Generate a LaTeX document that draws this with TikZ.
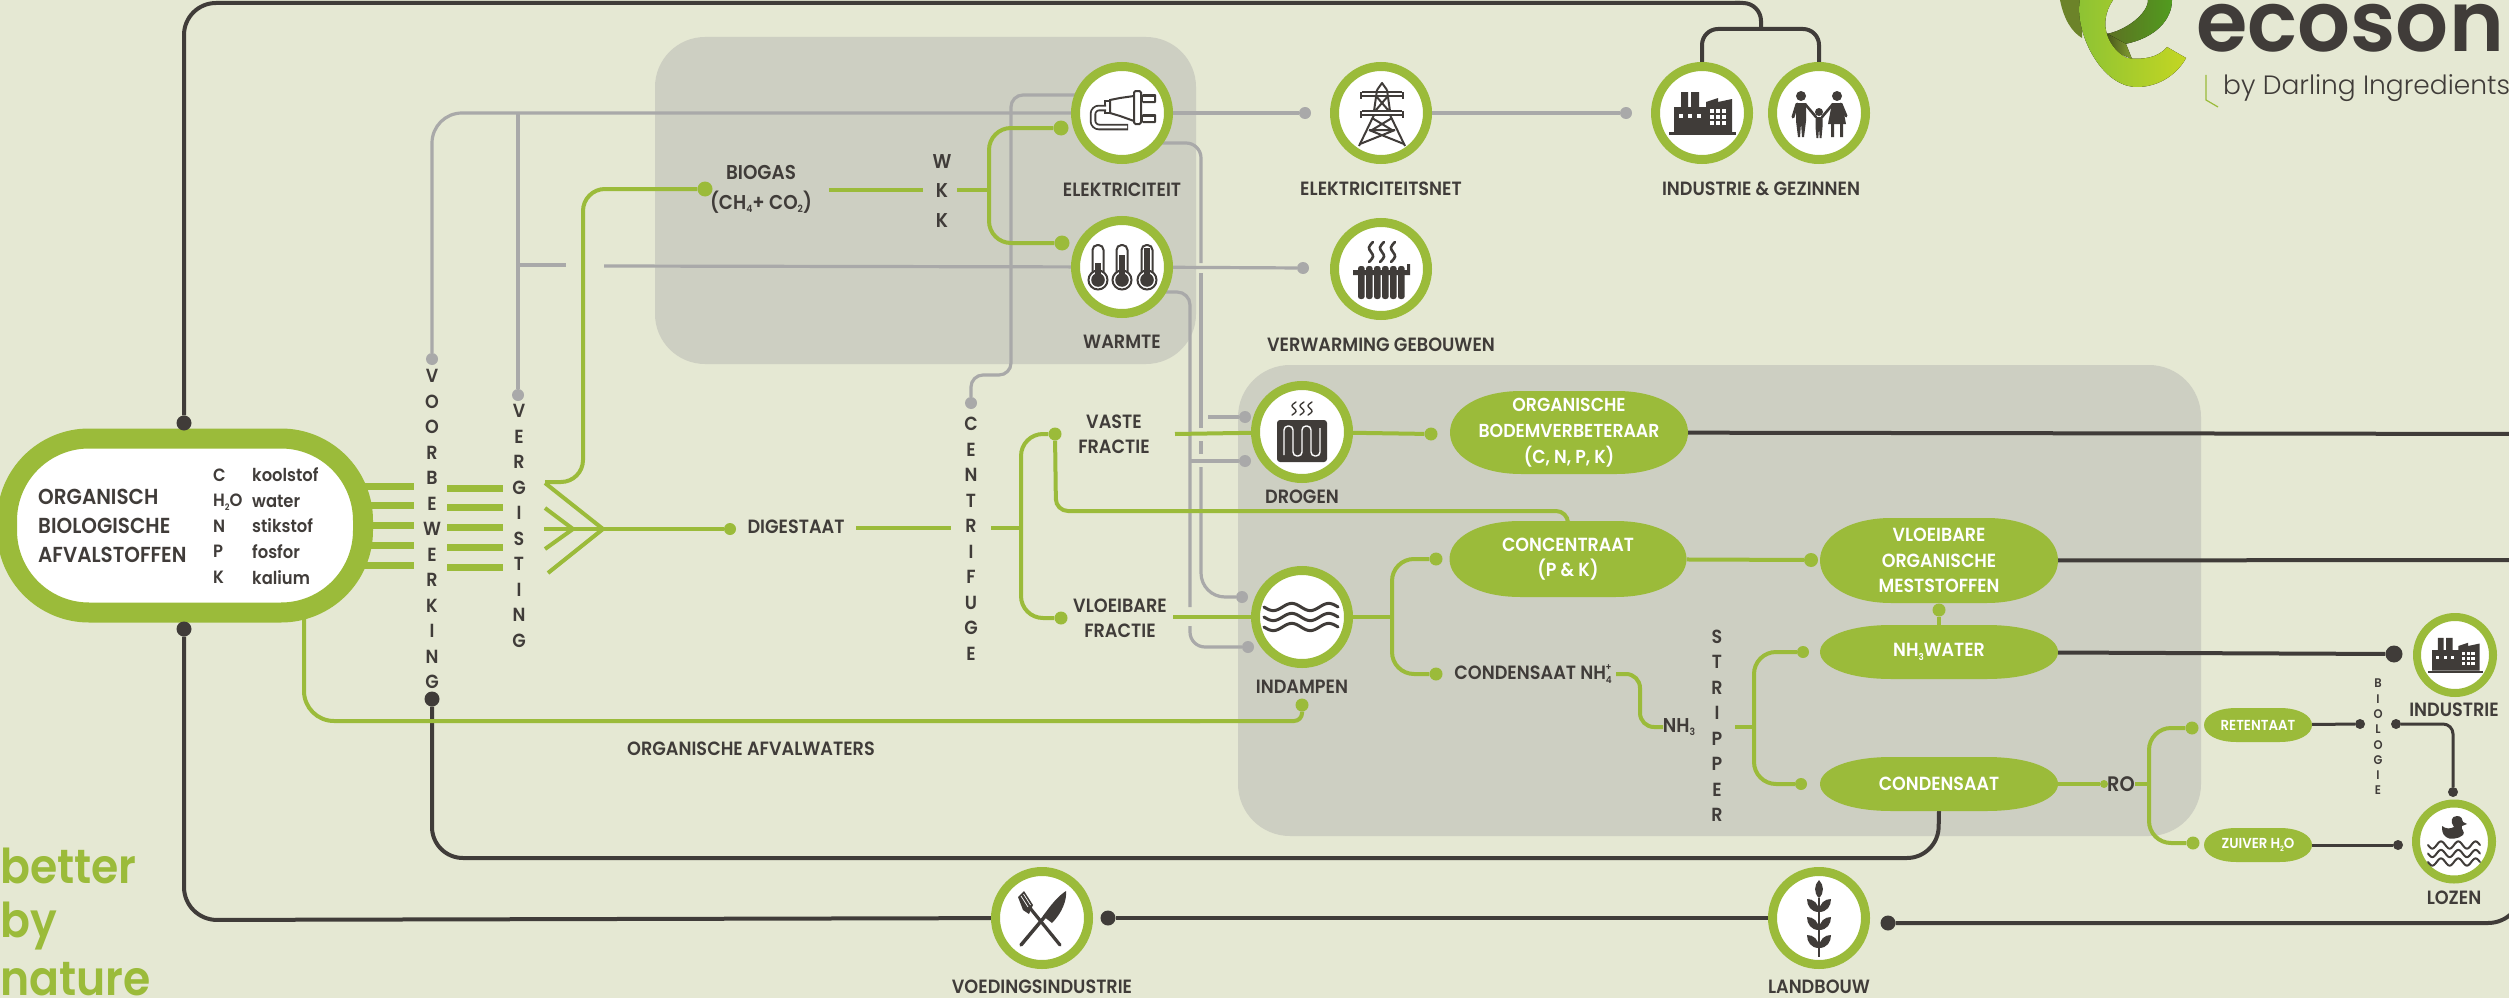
\documentclass[tikz,border=0pt]{standalone}
\usepackage{fontspec}
\newfontfamily\lb{Poppins SemiBold}[FakeStretch=0.92]
\newfontfamily\lc{Poppins SemiBold}[FakeStretch=0.99]
\newfontfamily\lr{Poppins Light}
\usetikzlibrary{calc}
\definecolor{bgc}{HTML}{E5E8D3}
\definecolor{boxc}{HTML}{CDCFC2}
\definecolor{grnc}{HTML}{9BBB3A}
\definecolor{drkc}{HTML}{403C39}
\definecolor{gryc}{HTML}{A9A9A9}
\pgfdeclarelayer{back}\pgfdeclarelayer{conn}
\pgfsetlayers{back,conn,main}
\newcommand\lowr[1]{\raisebox{-.35ex}{\scalebox{.5}{#1}}}
\newcommand\upr[1]{\raisebox{.9ex}{\scalebox{.5}{#1}}}
\tikzset{
 x=1pt,y=-1pt,
 ring/.style={circle,draw=grnc,fill=white,line width=9pt,minimum size=93pt,inner sep=0pt},
 sring/.style={circle,draw=grnc,fill=white,line width=8pt,minimum size=76pt,inner sep=0pt},
 gdot/.style={circle,fill=grnc,inner sep=0pt,minimum size=15pt},
 gsmall/.style={circle,fill=grnc,inner sep=0pt,minimum size=8pt},
 ydot/.style={circle,fill=gryc,inner sep=0pt,minimum size=12pt},
 ddot/.style={circle,fill=drkc,inner sep=0pt,minimum size=15pt},
 dbig/.style={circle,fill=drkc,inner sep=0pt,minimum size=17pt},
 dsmall/.style={circle,fill=drkc,inner sep=0pt,minimum size=10pt},
 grn/.style={draw=grnc,line width=4pt},
 grnt/.style={draw=grnc,line width=7pt},
 gry/.style={draw=gryc,line width=3.2pt},
 drk/.style={draw=drkc,line width=4pt},
 drkt/.style={draw=drkc,line width=3pt},
 lbl/.style={font=\lb\fontsize{19.2}{25.5}\selectfont,text=drkc,inner sep=0pt,align=center},
 vert/.style={font=\lb\fontsize{19}{25.5}\selectfont,text=drkc,inner sep=0pt,align=center},
 wlb/.style={font=\lb\fontsize{19}{25.7}\selectfont,text=white,inner sep=0pt,align=center},
 ico/.style={fill=drkc,draw=none},
 icl/.style={draw=drkc,line width=2pt},
}
% pill: name cx cy w h text font
\newcommand\pill[7]{%
 \fill[grnc] ({#2-#4/2},#3) .. controls ({#2-#4/2},{#3-.28*#5}) and ({#2-.38*#4},{#3-#5/2}) .. ({#2-.2*#4},{#3-#5/2})
  -- ({#2+.2*#4},{#3-#5/2}) .. controls ({#2+.38*#4},{#3-#5/2}) and ({#2+#4/2},{#3-.28*#5}) .. ({#2+#4/2},#3)
  .. controls ({#2+#4/2},{#3+.28*#5}) and ({#2+.38*#4},{#3+#5/2}) .. ({#2+.2*#4},{#3+#5/2})
  -- ({#2-.2*#4},{#3+#5/2}) .. controls ({#2-.38*#4},{#3+#5/2}) and ({#2-#4/2},{#3+.28*#5}) .. ({#2-#4/2},#3) -- cycle;
 \node[wlb,font=\lb\fontsize{#7}{25.7}\selectfont,minimum width=#4pt,minimum height=#5pt] (#1) at (#2,#3) {#6};}
\newcommand\squig[4]{\draw[shift={(#1,#2)},yscale=#3,draw=drkc,line width=#4pt,line cap=round]
 (2,0) .. controls (-3,.25) and (-3,.3) .. (0,.5) .. controls (3,.7) and (3,.75) .. (-2,1);}
\newcommand\wavy[6]{\draw[draw=#6,line width=#5pt,line cap=round] plot[domain=0:#3,samples=60,smooth] ({#1+\x*#4},{#2+3.6*sin(360*\x)});}
\newcommand\factory[3]{\begin{scope}[shift={(#1,#2)},scale=#3]
 \fill[drkc] (-33,19) rectangle (34,22);
 \fill[drkc] (-28,19) -- (-28,-6) -- (-21,-6) -- (-21,-21) -- (-14,-21) -- (-14,-6) -- (-11,-6) -- (-11,-21) -- (-3,-21) -- (-3,-6) -- (4,-6) -- (4,-11) -- (16,-15) -- (16,-11) -- (30,-14) -- (30,19) -- cycle;
 \foreach \a in {-23,-14,-5} \fill[white] (\a,1) rectangle ++(4,4);
 \foreach \a in {8,14,20} \foreach \b in {-4,2,8} \fill[white] (\a,\b) rectangle ++(4.2,4.2);
\end{scope}}
\newcommand\thermo[2]{%
 \filldraw[icl,fill=white,rounded corners=5pt] (#1-5.5,272) -- (#1-5.5,245) -- (#1+5.5,245) -- (#1+5.5,272);
 \filldraw[icl,fill=white] (#1,280) circle[radius=9.5pt];
 \fill[drkc] (#1,280) circle[radius=6.8pt];
 \fill[drkc] (#1-2.6,#2) rectangle (#1+2.6,276);}
\begin{document}
\begin{tikzpicture}
\useasboundingbox (0,0) rectangle (2509,998);
\begin{pgfonlayer}{back}
 \fill[bgc] (0,0) rectangle (2509,998);
 \fill[boxc,rounded corners=50pt] (655,37) rectangle (1196,364);
 \fill[boxc,rounded corners=52pt] (1238,365) rectangle (2201,836);
\end{pgfonlayer}

% main process rings
\node[draw=grnc,fill=white,line width=20pt,minimum width=356pt,minimum height=174pt,rounded corners=82pt,inner sep=0pt] (src) at (185,525.5) {};
\node[ring] (elek) at (1122,113) {};
\node[ring] (warm) at (1122,267) {};
\node[ring] (net) at (1381,113) {};
\node[ring] (verw) at (1381,269) {};
\node[ring] (fab) at (1702,113) {};
\node[ring] (gez) at (1819,113) {};
\node[ring] (drog) at (1302,432) {};
\node[ring] (inda) at (1302,617) {};
\node[ring] (voed) at (1042,918) {};
\node[ring] (land) at (1819,918) {};
\node[sring] (indu) at (2455,655) {};
\node[sring] (loz) at (2454,841.5) {};

% pills
\pill{org}{1569}{432.5}{238}{83}{ORGANISCHE\\BODEMVERBETERAAR\\(C, N, P, K)}{18.8}
\pill{conc}{1568}{559}{237}{76}{CONCENTRAAT\\(P \& K)}{19}
\pill{vlo}{1939}{560.5}{238}{85}{VLOEIBARE\\ORGANISCHE\\MESTSTOFFEN}{19}
\pill{nhw}{1939}{652}{238}{54}{NH\lowr{3}WATER}{19}
\pill{cond}{1939}{784}{238}{54}{CONDENSAAT}{19}
\pill{ret}{2258}{725}{108}{34}{RETENTAAT}{14.5}
\pill{zui}{2258}{845}{108}{34}{ZUIVER H\lowr{2}O}{14.5}

% dots
\node[ddot] (dtop) at (184,423) {};
\node[ddot] (dbot) at (184,629) {};
\node[ddot] (dvoor) at (432,699) {};
\node[ddot] (dvoed) at (1108,918) {};
\node[ddot] (dland) at (1888,923) {};
\node[dbig] (dind) at (2394,654) {};
\node[dsmall] (dret) at (2360,724) {};
\node[dsmall] (dbio) at (2396,724) {};
\node[dsmall] (dloz1) at (2453,792) {};
\node[dsmall] (dzui) at (2398,845) {};
\node[ydot] (yvoor) at (432,359) {};
\node[ydot] (yverg) at (518,395) {};
\node[ydot] (ycent) at (971,403) {};
\node[ydot] (ynet) at (1305,113) {};
\node[ydot] (yfab) at (1626,113) {};
\node[ydot] (yverw) at (1303,268) {};
\node[ydot] (ydr1) at (1245,417) {};
\node[ydot] (ydr2) at (1245,461) {};
\node[ydot] (yin1) at (1242,597) {};
\node[ydot] (yin2) at (1248,647) {};
\node[gdot] (gbio) at (705,189) {};
\node[gdot] (gel) at (1061,128) {};
\node[gdot] (gwa) at (1062,243) {};
\node[gdot,minimum size=12pt] (gdig) at (730,529) {};
\node[gdot,minimum size=13pt] (gvas) at (1055,434) {};
\node[gdot,minimum size=13pt] (gvlo) at (1061,618) {};
\node[gdot,minimum size=13pt] (gorg) at (1431,434) {};
\node[gdot,minimum size=13pt] (gcon) at (1436,559) {};
\node[gdot,minimum size=13pt] (gcnh) at (1436,674) {};
\node[gdot,minimum size=13pt] (gin) at (1302,705) {};
\node[gdot,minimum size=14pt] (gvl) at (1811,560) {};
\node[gdot,minimum size=13pt] (gmes) at (1939,610) {};
\node[gdot,minimum size=12pt] (gnh) at (1803,652) {};
\node[gdot,minimum size=12pt] (gco) at (1801,784) {};
\node[gsmall] (gro) at (2104,784) {};
\node[gdot,minimum size=13pt] (gret) at (2192,728) {};
\node[gdot,minimum size=13pt] (gzu) at (2193,843) {};
\coordinate (topj) at (1761,29);
\coordinate (ex1) at (2540,434);
\coordinate (ex2) at (2540,560);

\begin{pgfonlayer}{conn}
 % dark
 \draw[drk,rounded corners=32pt] (dtop) -- (184,3) -- (1740,3);
 \draw[drk,rounded corners=18pt] (1735,3) -- (1761,3) -- (topj);
 \draw[drk,rounded corners=16pt] (fab) -- (1702,29) -- (1819,29) -- (gez);
 \draw[drk,rounded corners=33pt] (dbot) -- (184,920) -- (voed);
 \draw[drk] (dvoed) -- (land);
 \draw[drk,rounded corners=34pt] (dland) -- (2522,923) -- (2522,850);
 \draw[drk,rounded corners=31pt] (dvoor) -- (432,858) -- (1938,858) -- (cond.south);
 \draw[drk] (org) -- (ex1);
 \draw[drk] (vlo) -- (ex2);
 \draw[drk] (nhw) -- (dind);
 \draw[drkt] (ret) -- (dret);
 \draw[drkt,rounded corners=10pt] (dbio) -- (2453,724) -- (dloz1);
 \draw[drkt] (zui) -- (dzui);
 % gray
 \draw[gry,rounded corners=30pt] (yvoor) -- (432,113) -- (elek);
 \draw[gry] (yverg) -- (518,113);
 \draw[gry] (518,265) -- (566,265);
 \draw[gry] (604,266) -- (warm);
 \draw[gry,rounded corners=12pt] (ycent) -- (971,375) -- (1011,375) -- (1011,95) -- (1090,95);
 \draw[gry,rounded corners=15pt] (1130,143) -- (1201,143) -- (1201,263);
 \draw[gry] (1201,273) -- (1201,428);
 \draw[gry] (1201,441) -- (1201,454);
 \draw[gry,rounded corners=24pt] (1201,467) -- (1201,597) -- (yin1);
 \draw[gry,rounded corners=13pt] (1130,292) -- (1190,292) -- (1190,607);
 \draw[gry,rounded corners=15pt] (1190,626) -- (1190,647) -- (yin2);
 \draw[gry] (1190,461) -- (ydr2);
 \draw[gry] (1208,417) -- (ydr1);
 \draw[gry] (elek) -- (ynet);
 \draw[gry] (net) -- (yfab);
 \draw[gry] (warm) -- (yverw);
 % green
 \foreach \yy in {486,505,525,545,565} \draw[grnt] (350,\yy) -- (414,\yy);
 \foreach \yy in {488,507,527,547,567} \draw[grnt] (447,\yy) -- (503,\yy);
 \draw[grn,rounded corners=22pt] (545,482) -- (583,482) -- (583,189) -- (gbio);
 \draw[grn,line join=miter] (545,483) -- (603,529) -- (548,573);
 \draw[grn,line join=miter] (545,508) -- (573,529) -- (545,549);
 \draw[grn] (544,529) -- (gdig);
 \draw[grn] (829,190) -- (923,190);
 \draw[grn] (957,190) -- (989,190);
 \draw[grn,rounded corners=22pt] (gel) -- (989,128) -- (989,243) -- (gwa);
 \draw[grn] (856,528) -- (951,528);
 \draw[grn] (991,528) -- (1021,528);
 \draw[grn,rounded corners=22pt] (gvas) -- (1021,434) -- (1021,618) -- (gvlo);
 \draw[grn,rounded corners=12pt] (gvas) -- (1056,511) -- (1568,511) -- (conc);
 \draw[grn] (1175,434) -- (drog);
 \draw[grn] (1173,617) -- (inda);
 \draw[grn] (drog) -- (gorg);
 \draw[grn] (inda) -- (1392,617);
 \draw[grn,rounded corners=22pt] (gcon) -- (1392,559) -- (1392,674) -- (gcnh);
 \draw[grn,rounded corners=14pt] (1616,674) -- (1640,674) -- (1640,727) -- (1663,727);
 \draw[grn] (conc) -- (gvl);
 \draw[grn] (gmes) -- (nhw);
 \draw[grn] (1735,727) -- (1754,727);
 \draw[grn,rounded corners=22pt] (gnh) -- (1754,652) -- (1754,784) -- (gco);
 \draw[grn] (cond) -- (gro);
 \draw[grn] (2135,784) -- (2149,784);
 \draw[grn,rounded corners=22pt] (gret) -- (2149,728) -- (2149,843) -- (gzu);
 \draw[grn,rounded corners=30pt] (304,600) -- (304,721) -- (1200,721);
 \draw[grn,rounded corners=8pt] (1190,721) -- (1302,721) -- (gin);
\end{pgfonlayer}

% labels
\node[lbl,font=\lb\fontsize{21.7}{29}\selectfont,align=left,anchor=west] (tsrc) at (38,526) {ORGANISCH\\BIOLOGISCHE\\AFVALSTOFFEN};
\node[lbl,font=\lb\fontsize{17.8}{25.6}\selectfont,align=left,anchor=west] (tel) at (213,526) {C\\H\lowr{2}O\\N\\P\\K};
\node[lbl,font=\lb\fontsize{17.8}{25.6}\selectfont,align=left,anchor=west] (tnm) at (252,526) {koolstof\\water\\stikstof\\fosfor\\kalium};
\node[vert] (tvoor) at (432,529) {V\\O\\O\\R\\B\\E\\W\\E\\R\\K\\I\\N\\G};
\node[vert] (tverg) at (519,526) {V\\E\\R\\G\\I\\S\\T\\I\\N\\G};
\node[vert] (tcen) at (971,539) {C\\E\\N\\T\\R\\I\\F\\U\\G\\E};
\node[vert] (tstr) at (1717,726) {S\\T\\R\\I\\P\\P\\E\\R};
\node[vert,font=\lb\fontsize{20}{29.5}\selectfont] (twkk) at (942,191) {W\\K\\K};
\node[vert,font=\lb\fontsize{12.5}{15.3}\selectfont] (tbio) at (2378,737) {B\\I\\O\\L\\O\\G\\I\\E};
\node[lbl,font=\lb\fontsize{20}{30}\selectfont] (tgas) at (761,189) {BIOGAS\\(CH\lowr{4}+ CO\lowr{2})};
\node[lbl] (tel1) at (1122,190) {ELEKTRICITEIT};
\node[lbl] (twa1) at (1122,342) {WARMTE};
\node[lbl] (tnet) at (1381,189) {ELEKTRICITEITSNET};
\node[lbl] (tig) at (1761,189) {INDUSTRIE \& GEZINNEN};
\node[lbl] (tvw) at (1381,345) {VERWARMING GEBOUWEN};
\node[lbl] (tdig) at (796,527) {DIGESTAAT};
\node[lbl] (tvas) at (1114,434.5) {VASTE\\FRACTIE};
\node[lbl] (tvl) at (1120,618.5) {VLOEIBARE\\FRACTIE};
\node[lbl] (tdr) at (1302,497) {DROGEN};
\node[lbl] (tin) at (1302,687) {INDAMPEN};
\node[lbl] (tafv) at (751,749) {ORGANISCHE AFVALWATERS};
\node[lbl] (tcn) at (1533,674) {CONDENSAAT NH\lowr{4}\hspace{-.32em}\upr{+}};
\node[lbl,font=\lb\fontsize{20}{25}\selectfont] (tn3) at (1679,727) {NH\lowr{3}};
\node[lbl,font=\lb\fontsize{21}{25}\selectfont] (tro) at (2121,784) {RO};
\node[lbl] (tiu) at (2454,710) {INDUSTRIE};
\node[lbl] (tlo) at (2454,898) {LOZEN};
\node[lbl] (tvo) at (1042,987) {VOEDINGSINDUSTRIE};
\node[lbl] (tla) at (1819,987) {LANDBOUW};
\node[anchor=base west,inner sep=0pt,text=grnc,font=\lb\fontsize{48}{48}\selectfont] (b1) at (0,883) {better};
\node[anchor=base west,inner sep=0pt,text=grnc,font=\lb\fontsize{48}{48}\selectfont] (b2) at (0,937) {by};
\node[anchor=base west,inner sep=0pt,text=grnc,font=\lb\fontsize{48}{48}\selectfont] (b3) at (0,995) {nature};

% logo
\fill[color=grnc!70!black] (2060,0) .. controls (2064,20) and (2072,32) .. (2082,38) -- (2083,0) -- cycle;
\fill[left color=grnc!60!black,right color=grnc!70!green!75!black] (2172,0) .. controls (2172,20) and (2155,38) .. (2125,44) -- (2106,34) .. controls (2125,31) and (2148,14) .. (2148,0) -- cycle;
\fill[left color=grnc!45!black,right color=grnc!85!black] (2106,33) -- (2126,44) -- (2132,59) -- (2118,53) -- (2107,41) -- cycle;
\fill[left color=grnc!90!green,right color=grnc!60!yellow] (2080,0) .. controls (2074,30) and (2100,87) .. (2137,87) .. controls (2160,87) and (2178,73) .. (2186,58) -- (2167,47) .. controls (2158,58) and (2143,60) .. (2127,58) .. controls (2110,50) and (2096,25) .. (2113,0) -- cycle;
\node[anchor=base west,inner sep=0pt,text=drkc,font=\lc\fontsize{84}{84}\selectfont] (eco) at (2196,52) {ecoson};
\node[anchor=base west,inner sep=0pt,text=drkc,font=\lr\fontsize{26.5}{27}\selectfont] (dar) at (2223,94) {by Darling Ingredients};
\draw[grnc,line width=1.2pt] (2206,75) -- (2206,100) -- (2218,107);

% icons: plug
\fill[drkc,rounded corners=1pt] (1142,94) rectangle (1156,103);
\fill[drkc,rounded corners=1pt] (1142,114) rectangle (1156,123);
\fill[white] (1143,96.5) rectangle (1154,100.5);
\fill[white] (1143,116.5) rectangle (1154,120.5);
\filldraw[icl,fill=white] (1134,96) -- (1120,98) -- (1110,100) -- (1110,113) -- (1120,116) -- (1134,121) -- cycle;
\filldraw[icl,fill=white,rounded corners=1.5pt] (1134,91) rectangle (1141,124);
\filldraw[icl,fill=white] (1105,101) rectangle (1110,113);
\draw[draw=drkc,line width=6.5pt,rounded corners=6pt] (1106,108) -- (1093,108) -- (1093,127) -- (1128,127);
\draw[draw=white,line width=2.8pt,rounded corners=6pt] (1107,108) -- (1093,108) -- (1093,127) -- (1127,127);
% thermometers
\thermo{1098}{263}\thermo{1122}{255}\thermo{1147}{248}
% pylon
\begin{scope}[shift={(1382,113)}]
 \draw[icl,line join=round] (-5,-23) -- (0,-30) -- (5,-23);
 \draw[icl] (-20,-21) -- (20,-21) (-21,-17) -- (21,-17) (-21,-21) -- (-21,-14) (21,-21) -- (21,-14);
 \draw[icl] (-20,-2) -- (20,-2) (-21,2) -- (21,2) (-21,-2) -- (-21,5) (21,-2) -- (21,5);
 \draw[icl] (-5,-23) -- (-8,-2) (5,-23) -- (8,-2) (-8,2) -- (-23,33) (8,2) -- (23,33) (-6,-17) -- (6,-3) (6,-17) -- (-6,-3);
 \draw[icl] (-10,5) -- (10,17) (10,5) -- (-10,17) (-13,17) -- (13,17) (-13,17) -- (22,31) (13,17) -- (-22,31);
\end{scope}
% factory, family
\factory{1702}{113}{1}
\factory{2455}{655}{.82}
\begin{scope}[shift={(1819,113)}]
 \fill[drkc] (-18,-17) circle[radius=5pt] (18,-17) circle[radius=5pt] (0,-1) circle[radius=4pt];
 \fill[drkc] (-23,-10) -- (-13,-10) -- (-13,8) -- (-15,24) -- (-17,24) -- (-18,10) -- (-19,24) -- (-21,24) -- (-23,8) -- cycle;
 \draw[draw=drkc,line width=3pt,line cap=round,rounded corners=3pt] (-22,-9) -- (-26,4);
 \draw[draw=drkc,line width=2.6pt,line cap=round] (-14,-9) -- (-3,4);
 \fill[drkc] (13,-10) -- (23,-10) -- (27,11) -- (9,11) -- cycle;
 \fill[drkc] (12,10) rectangle (15,24) (21,10) rectangle (24,24);
 \draw[draw=drkc,line width=2.6pt,line cap=round] (14,-9) -- (3,4);
 \draw[draw=drkc,line width=3pt,line cap=round] (22,-9) -- (27,3);
 \fill[drkc] (-3.5,4) -- (3.5,4) -- (3.5,14) -- (2.5,25) -- (.7,25) -- (0,15) -- (-.7,25) -- (-2.5,25) -- (-3.5,14) -- cycle;
\end{scope}
% radiator
\begin{scope}[shift={(1381,269)}]
 \foreach \a in {-23,-15,-7,1,9,17} \fill[drkc,rounded corners=2.5pt] (\a,-3) rectangle ++(6.6,33);
 \fill[drkc] (-28,1) rectangle (29,6) (26,-5) rectangle (29,6);
 \squig{-10}{-27}{20}{2.6}\squig{1}{-27}{20}{2.6}\squig{12}{-27}{20}{2.6}
\end{scope}
% drying
\fill[drkc,rounded corners=3pt] (1277,420) rectangle (1327,462);
\draw[draw=white,line width=1.4pt,rounded corners=4pt] (1284,455) -- (1284,426) -- (1293,426) -- (1293,456) -- (1302,456) -- (1302,426) -- (1311,426) -- (1311,456) -- (1320,456) -- (1320,428);
\squig{1294}{402}{13}{1.4}\squig{1302}{402}{13}{1.4}\squig{1310}{402}{13}{1.4}
% evaporation waves
\wavy{1264}{607}{2}{37}{3}{drkc}
\wavy{1264}{617}{2}{37}{3}{drkc}
\wavy{1264}{627}{2}{37}{3}{drkc}
% fork and knife
\begin{scope}[shift={(1042,918)}]
 \draw[draw=drkc,line width=3.5pt,line cap=round] (-21,27) -- (5,-4);
 \fill[drkc] (1,-2) -- (10,5) .. controls (20,-5) and (25,-18) .. (24,-27) .. controls (16,-22) and (8,-12) .. cycle;
 \draw[draw=drkc,line width=3.2pt,line cap=round] (18,27) -- (-12,-10);
 \fill[drkc] (-24,-21) -- (-18,-27) -- (-9,-13) -- (-13,-4) -- (-19,-8) -- cycle;
 \draw[draw=white,line width=.7pt] (-21,-22) -- (-14,-11) (-18.5,-24) -- (-11.5,-13);
\end{scope}
% wheat
\begin{scope}[shift={(1819,918)}]
 \draw[draw=drkc,line width=2pt] (0,-20) -- (0,39);
 \fill[drkc] (0,-38) .. controls (5,-33) and (5.5,-25) .. (0,-20) .. controls (-5.5,-25) and (-5,-33) .. (0,-38) -- cycle;
 \foreach \yy in {-14,4,22} {
  \fill[drkc] (0,\yy+8) .. controls (-8,\yy+8) and (-12,\yy+2) .. (-12,\yy-5) .. controls (-6,\yy-5) and (0,\yy-1) .. (0,\yy+8) -- cycle;
  \fill[drkc] (0,\yy+8) .. controls (8,\yy+8) and (12,\yy+2) .. (12,\yy-5) .. controls (6,\yy-5) and (0,\yy-1) .. (0,\yy+8) -- cycle;}
\end{scope}
% duck and water
\fill[drkc] (2442,826) .. controls (2446,829) and (2450,829) .. (2454,827) .. controls (2450,822) and (2451,816) .. (2457,816) .. controls (2461,816) and (2463,819) .. (2463,822) -- (2467,824) -- (2462,826) .. controls (2460,829) and (2466,832) .. (2463,835) .. controls (2459,839) and (2449,840) .. (2446,837) .. controls (2442,834) and (2442,830) .. (2442,826) -- cycle;
\wavy{2428}{845}{3}{17.3}{2}{drkc}
\wavy{2428}{853.5}{3}{17.3}{2}{drkc}
\wavy{2428}{862}{3}{17.3}{2}{drkc}
\end{tikzpicture}
\end{document}
